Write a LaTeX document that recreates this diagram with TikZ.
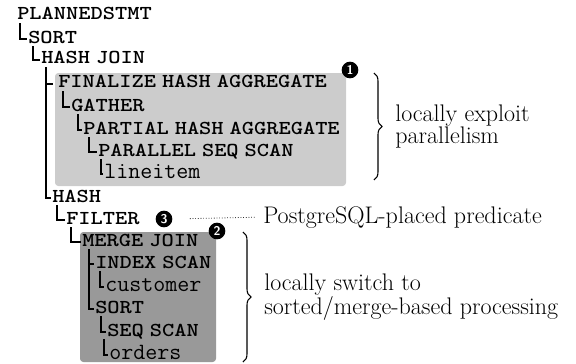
\documentclass[tikz,border=0pt]{standalone}
\usepackage{graphicx}
\usetikzlibrary{decorations.pathreplacing,calc}
\definecolor{lightbox}{gray}{0.80}
\definecolor{darkbox}{gray}{0.60}
\newcommand\opf{\ttfamily\bfseries\fontsize{14.8}{16}\selectfont}
\newcommand\relf{\ttfamily\mdseries\fontsize{17.5}{20}\selectfont}
\newcommand\op[1]{\scalebox{1.18}[1]{\opf\spaceskip=3.8pt\relax #1}}
\newcommand\rel[1]{{\relf #1}}
\newcommand\lblf{\rmfamily\fontsize{18}{16.5}\selectfont}
\begin{document}
\begin{tikzpicture}[x=0.75pt,y=-0.75pt,
  tree/.style={line width=0.8pt},
  nd/.style={anchor=base west, inner sep=0pt},
  num/.style={circle, fill=black, text=white, inner sep=0pt, minimum size=12.5pt,
    font=\sffamily\bfseries\fontsize{9.5}{10}\selectfont},
  lab/.style={anchor=west, inner sep=0pt, align=left, font=\lblf},
  brc/.style={decorate, decoration={brace, amplitude=6pt}, line width=0.8pt}]
\useasboundingbox (0,0) rectangle (576,364);
% shaded regions
\fill[lightbox, rounded corners=2.5pt] (55,73) rectangle (346,186);
\fill[darkbox, rounded corners=2.5pt] (80,232) rectangle (216,362);
% plan nodes
\node[nd] (n0) at (17,20) {\op{PLANNEDSTMT}};
\node[nd] (n1) at (28,43) {\op{SORT}};
\node[nd] (n2) at (41,64) {\op{HASH JOIN}};
\node[nd] (n3) at (58,88) {\op{FINALIZE HASH AGGREGATE}};
\node[nd] (n4) at (71,111) {\op{GATHER}};
\node[nd] (n5) at (83,134) {\op{PARTIAL HASH AGGREGATE}};
\node[nd] (n6) at (98,156) {\op{PARALLEL SEQ SCAN}};
\node[nd] (n7) at (104,178) {\rel{lineitem}};
\node[nd] (n8) at (52,202) {\op{HASH}};
\node[nd] (n9) at (66,224) {\op{FILTER}};
\node[nd] (n10) at (82,246) {\op{MERGE JOIN}};
\node[nd] (n11) at (95,268) {\op{INDEX SCAN}};
\node[nd] (n12) at (105,291) {\rel{customer}};
\node[nd] (n13) at (95,313) {\op{SORT}};
\node[nd] (n14) at (107,336) {\op{SEQ SCAN}};
\node[nd] (n15) at (109,359) {\rel{orders}};
% tree connectors: vertical from parent, horizontal into child
\foreach \p/\c/\dx in {n0/n1/3, n1/n2/5, n2/n8/5, n3/n4/5, n4/n5/7, n5/n6/6, n6/n7/3,
                       n8/n9/5, n9/n10/5, n10/n13/7, n11/n12/5, n13/n14/6, n14/n15/-3}
  \draw[tree] ($(\p.base west)+(\dx,3)$) |- ($(\c.base west)+(-1,-4)$);
\coordinate (v2) at ($(n2.base west)+(5,3)$);
\coordinate (i3) at ($(n3.base west)+(-5,-4)$);
\draw[tree] (v2 |- i3) -- (i3);
\coordinate (v10) at ($(n10.base west)+(7,3)$);
\coordinate (i11) at ($(n11.base west)+(-1,-4)$);
\draw[tree] (v10 |- i11) -- (i11);
% markers
\node[num] (c1) at (350,70) {1};
\node[num] (c2) at (217,231) {2};
\node[num] (c3) at (164,219) {3};
% annotations
\node[nd, font=\lblf] (pg) at (263,223) {PostgreSQL-placed predicate};
\draw[line width=0.6pt, dash pattern=on 0.5pt off 1.5pt, shorten <=13pt, shorten >=6pt] (c3.east) -- (pg.west);
\coordinate (b1t) at (374,73);
\coordinate (b1b) at (374,180);
\draw[brc] (b1t) -- (b1b);
\node[lab] (t1) at (395,126.5) {locally exploit\\parallelism};
\coordinate (b2t) at (243,232);
\coordinate (b2b) at (243,362);
\draw[brc] (b2t) -- (b2b);
\node[lab] (t2) at (264,297.5) {locally switch to\\sorted/merge-based processing};
\end{tikzpicture}
\end{document}
